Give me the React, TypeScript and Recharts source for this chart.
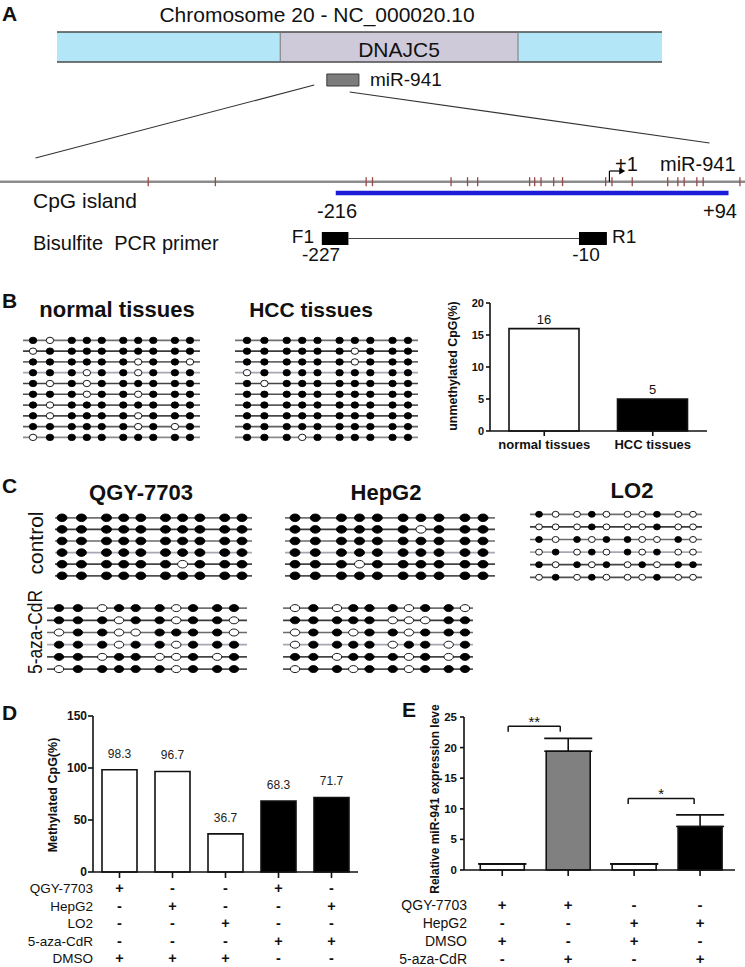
import React from "react";
import {
  BarChart,
  Bar,
  ComposedChart,
  Line,
  Scatter,
  XAxis,
  YAxis,
  Cell,
  LabelList,
  ReferenceArea,
  ReferenceLine,
  ReferenceDot,
  ErrorBar,
} from "recharts";

const FONT = '"Liberation Sans", Arial, Helvetica, sans-serif';
const INK = "#111";

// ---------- A: chromosome (in % of drawn region) and promoter (bp from +1) ----------
const CHR_SEGMENTS = [
  { name: "", start: 0, end: 36.9 },
  { name: "DNAJC5", start: 36.9, end: 76.2 },
  { name: "", start: 76.2, end: 100 },
];
const MIR_BOX = { name: "miR-941", start: 44.6, end: 49.9 };
const CPG_SITES = [
  -364, -311, -192, -187, -125, -112, -104, -63, -59, -54, -44, -37, -3, 2, 18, 46, 54, 59, 69, 74, 103,
];
const CPG_ISLAND = { start: -216, end: 94 };
const PRIMERS = [
  { name: "F1", start: -227, end: -206 },
  { name: "R1", start: -24, end: -2 },
];
const TSS = 0;
const GENE_RANGE: [number, number] = [-481, 107];

// ---------- B ----------
// 1 = methylated (filled), 0 = unmethylated (open)
const NORMAL_ROWS = [
  "1011111111",
  "0111111111",
  "1111110110",
  "1110110111",
  "1010111111",
  "1110110111",
  "1011111111",
  "1011110111",
  "1111110101",
  "0111111111",
];
const HCC_ROWS = [
  "1111111111",
  "1111110111",
  "1111110111",
  "0111111111",
  "1011111111",
  "1111111111",
  "1111111111",
  "1111111111",
  "1111111111",
  "1110111111",
];
const B_GROUPS = ["normal tissues", "HCC tissues"];
const B_UNMETH = [16, 5];

// ---------- C ----------
const QGY_CTRL = ["1111111111", "1111111111", "1111111111", "1111111111", "1111110111", "1111111111"];
const HEPG2_CTRL = ["1111111111", "1111110111", "1111111111", "1111111111", "1110111111", "1111111111"];
const LO2_CTRL = ["1001000100", "0001000100", "1010110010", "0101010100", "1010101011", "0101000100"];
const QGY_AZA = ["1101110111", "1110110110", "0110011110", "1110110111", "1101100101", "0111110111"];
const HEPG2_AZA = ["0101110110", "1111100011", "0110110111", "0111101101", "1101110101", "0110110111"];
// schematic column of each of the 10 CpG sites
const CPG_LAYOUT = [0, 1.08, 2.47, 3.43, 4.38, 5.75, 6.7, 7.66, 9.04, 10];

// ---------- D ----------
const D_GROUPS = ["QGY-7703/DMSO", "HepG2/DMSO", "LO2/DMSO", "QGY-7703/aza", "HepG2/aza"];
const D_METH = [98.3, 96.7, 36.7, 68.3, 71.7];
const D_ROW_LABELS = ["QGY-7703", "HepG2", "LO2", "5-aza-CdR", "DMSO"];
const D_MARKS = ["+--+-", "-+--+", "--+--", "---++", "+++--"];

// ---------- E ----------
const E_GROUPS = [1, 2, 3, 4];
const E_REL = [1, 19.4, 1, 7.1];
const E_SEM = [0, 2.1, 0, 1.9];
const E_ROW_LABELS = ["QGY-7703", "HepG2", "DMSO", "5-aza-CdR"];
const E_MARKS = ["++--", "--++", "+-+-", "-+-+"];
const E_SIG = [
  { x1: 1.09, x2: 1.88, y: 23.5, label: "**" },
  { x1: 2.91, x2: 3.91, y: 11.7, label: "*" },
];

// styles
const CHR_FILLS = ["#b3e6f7", "#cecad9", "#b3e6f7"];
const B_FILLS = ["#fff", "#000"];
const D_FILLS = ["#fff", "#fff", "#fff", "#000", "#000"];
const E_FILLS = ["#fff", "#808080", "#fff", "#000"];
const ROW_SHADES = ["#707070", "#3c3c3c", "#6a6a6a", "#a8a8b4", "#444", "#505050", "#5a5a5a", "#484848", "#5f5f5f", "#8a8a8a"];

const CHR_PX = [57, 662];
const chrUnit = (CHR_PX[1] - CHR_PX[0]) / 100;
const CHR_DOMAIN: [number, number] = [-CHR_PX[0] / chrUnit, (745 - CHR_PX[0]) / chrUnit];

function PanelA() {
  const sites = CPG_SITES.map((x) => ({ x, y: 181.7 }));
  const bounds = CHR_SEGMENTS.slice(1).map((s) => ({ x: s.start, y: 47 }));
  const tickShape = (p: any) => (
    <line x1={p.cx} x2={p.cx} y1={p.cy - 4.5} y2={p.cy + 4.5} stroke="#9c4747" strokeWidth={1.3} />
  );
  const divider = (p: any) => (
    <line x1={p.cx} x2={p.cx} y1={p.cy - 15} y2={p.cy + 15} stroke="#777" strokeWidth={1} />
  );
  return (
    <div style={{ position: "absolute", left: 0, top: 0 }}>
      <ComposedChart width={745} height={280} margin={{ top: 0, right: 0, bottom: 0, left: 0 }}>
        <XAxis xAxisId="bp" type="number" dataKey="x" domain={GENE_RANGE} hide allowDataOverflow />
        <XAxis xAxisId="chr" type="number" dataKey="x" domain={CHR_DOMAIN} hide allowDataOverflow />
        <YAxis type="number" dataKey="y" domain={[0, 280]} reversed hide allowDataOverflow />

        {CHR_SEGMENTS.map((s, i) => (
          <ReferenceArea
            key={"seg" + i}
            xAxisId="chr"
            x1={s.start}
            x2={s.end}
            y1={32}
            y2={62}
            fill={CHR_FILLS[i]}
            fillOpacity={1}
            stroke="none"
          />
        ))}
        {[32, 62].map((y) => (
          <ReferenceLine
            key={"b" + y}
            xAxisId="chr"
            segment={[{ x: 0, y }, { x: 100, y }]}
            stroke="#4a4a4a"
            strokeWidth={1.5}
          />
        ))}
        <ReferenceArea
          xAxisId="chr"
          x1={MIR_BOX.start}
          x2={MIR_BOX.end}
          y1={74}
          y2={86}
          fill="#7c7c7c"
          fillOpacity={1}
          stroke="#3a3a3a"
          strokeWidth={1}
        />
        <Scatter xAxisId="chr" data={bounds} shape={divider} isAnimationActive={false} />

        {/* zoom-in lines */}
        <ReferenceLine xAxisId="bp" segment={[{ x: -233, y: 85 }, { x: -453, y: 158 }]} stroke="#333" strokeWidth={1.2} />
        <ReferenceLine xAxisId="bp" segment={[{ x: -205, y: 92 }, { x: 79, y: 143 }]} stroke="#333" strokeWidth={1.2} />

        <ReferenceLine xAxisId="bp" y={181.7} stroke="#8c8c8c" strokeWidth={2.5} />
        <ReferenceLine
          xAxisId="bp"
          segment={[{ x: CPG_ISLAND.start, y: 193 }, { x: CPG_ISLAND.end, y: 193 }]}
          stroke="#1b1bd8"
          strokeWidth={4.5}
        />
        {PRIMERS.map((p) => (
          <ReferenceArea
            key={p.name}
            xAxisId="bp"
            x1={p.start}
            x2={p.end}
            y1={232}
            y2={245}
            fill="#000"
            fillOpacity={1}
            stroke="none"
          />
        ))}
        <ReferenceLine
          xAxisId="bp"
          segment={[{ x: PRIMERS[0].end, y: 238.5 }, { x: PRIMERS[1].start, y: 238.5 }]}
          stroke="#444"
          strokeWidth={1}
        />
        {/* transcription start arrow */}
        <ReferenceLine xAxisId="bp" segment={[{ x: TSS, y: 181.7 }, { x: TSS, y: 171 }]} stroke="#000" strokeWidth={1.2} />
        <ReferenceLine xAxisId="bp" segment={[{ x: TSS, y: 171 }, { x: TSS + 10, y: 171 }]} stroke="#000" strokeWidth={1.2} />
        <ReferenceDot
          xAxisId="bp"
          x={TSS + 12.5}
          y={171}
          r={3}
          shape={(p: any) => (
            <path d={`M${p.cx - 6},${p.cy - 3.5}L${p.cx},${p.cy}L${p.cx - 6},${p.cy + 3.5}Z`} fill="#000" />
          )}
        />
        <Scatter xAxisId="bp" data={sites} shape={tickShape} isAnimationActive={false} />
      </ComposedChart>
    </div>
  );
}

type LolliProps = {
  rows: string[];
  lineX: [number, number];
  dotX: [number, number];
  rowY: [number, number];
  rx: number;
  ry: number;
};

function Lollipop({ rows, lineX, dotX, rowY, rx, ry }: LolliProps) {
  const n = rows.length;
  const gap = (rowY[1] - rowY[0]) / (n - 1);
  const unit = (dotX[1] - dotX[0]) / 10;
  const lo = -(dotX[0] - lineX[0]) / unit;
  const hi = 10 + (lineX[1] - dotX[1]) / unit;
  const pts = rows.flatMap((r, i) =>
    r.split("").map((c, j) => ({ x: CPG_LAYOUT[j], y: i + 1, m: c === "1" }))
  );
  const filled = pts.filter((p) => p.m);
  const open = pts.filter((p) => !p.m);
  const dot = (fill: string) => (p: any) => (
    <ellipse cx={p.cx} cy={p.cy} rx={rx} ry={ry} fill={fill} stroke="#000" strokeWidth={0.9} />
  );
  return (
    <div style={{ position: "absolute", left: lineX[0], top: rowY[0] - gap / 2 }}>
      <ComposedChart width={lineX[1] - lineX[0]} height={gap * n} margin={{ top: 0, right: 0, bottom: 0, left: 0 }}>
        <XAxis type="number" dataKey="x" domain={[lo, hi]} hide allowDataOverflow />
        <YAxis type="number" dataKey="y" domain={[0.5, n + 0.5]} reversed hide allowDataOverflow />
        {rows.map((_, i) => (
          <Line
            key={i}
            data={[
              { x: lo, y: i + 1 },
              { x: hi, y: i + 1 },
            ]}
            dataKey="y"
            stroke={ROW_SHADES[i % ROW_SHADES.length]}
            strokeWidth={1.7}
            dot={false}
            activeDot={false}
            isAnimationActive={false}
          />
        ))}
        <Scatter data={filled} shape={dot("#000")} isAnimationActive={false} />
        <Scatter data={open} shape={dot("#fff")} isAnimationActive={false} />
      </ComposedChart>
    </div>
  );
}

const axisStyle = { stroke: INK, strokeWidth: 1.6 };

function PanelBBars() {
  const data = B_GROUPS.map((g, i) => ({ g, v: B_UNMETH[i] }));
  return (
    <div style={{ position: "absolute", left: 440, top: 290 }}>
      <BarChart width={305} height={165} data={data} margin={{ top: 13, right: 38, left: 22, bottom: 0 }}>
        <XAxis
          dataKey="g"
          height={24}
          interval={0}
          tickSize={5}
          tickMargin={4}
          axisLine={axisStyle}
          tickLine={axisStyle}
          tick={{ fontSize: 13, fontWeight: 700, fill: INK }}
        />
        <YAxis
          domain={[0, 20]}
          ticks={[0, 5, 10, 15, 20]}
          width={28}
          tickSize={4}
          tickMargin={2}
          axisLine={axisStyle}
          tickLine={axisStyle}
          tick={{ fontSize: 11, fontWeight: 700, fill: INK }}
        />
        <Bar dataKey="v" barSize={70} stroke={INK} strokeWidth={1.6} isAnimationActive={false}>
          {data.map((_, i) => (
            <Cell key={i} fill={B_FILLS[i]} />
          ))}
          <LabelList dataKey="v" position="top" offset={5} fill={INK} fontSize={13} />
        </Bar>
      </BarChart>
    </div>
  );
}

const tableTick =
  (labels: string[], marks: string[], labelX: number, first: number, step: number, size: number) =>
  (props: any) => {
    const { x, y, index } = props;
    return (
      <g>
        {marks.map((m, r) => (
          <text
            key={r}
            x={x}
            y={y + first + r * step}
            textAnchor="middle"
            fontSize={size + 1}
            fontWeight={700}
            fill={INK}
          >
            {m[index]}
          </text>
        ))}
        {index === 0 &&
          labels.map((l, r) => (
            <text key={"l" + r} x={labelX} y={y + first + r * step} textAnchor="end" fontSize={size} fill={INK}>
              {l}
            </text>
          ))}
      </g>
    );
  };

function PanelD() {
  const data = D_GROUPS.map((g, i) => ({ g, v: D_METH[i] }));
  return (
    <div style={{ position: "absolute", left: 0, top: 700 }}>
      <BarChart width={380} height={267} data={data} margin={{ top: 16, right: 22, left: 53, bottom: 0 }}>
        <XAxis
          dataKey="g"
          height={95}
          interval={0}
          tickSize={6}
          tickMargin={0}
          axisLine={axisStyle}
          tickLine={axisStyle}
          tick={tableTick(D_ROW_LABELS, D_MARKS, 93, 15, 17.6, 13.5)}
        />
        <YAxis
          domain={[0, 150]}
          ticks={[0, 50, 100, 150]}
          width={40}
          tickSize={5}
          tickMargin={1}
          axisLine={axisStyle}
          tickLine={axisStyle}
          tick={{ fontSize: 12, fontWeight: 700, fill: INK }}
        />
        <Bar dataKey="v" barSize={35} stroke={INK} strokeWidth={1.6} isAnimationActive={false}>
          {data.map((_, i) => (
            <Cell key={i} fill={D_FILLS[i]} />
          ))}
          <LabelList dataKey="v" position="top" offset={12} fill="#222" fontSize={12} />
        </Bar>
      </BarChart>
    </div>
  );
}

function PanelE() {
  const data = E_GROUPS.map((x, i) => ({ x, v: E_REL[i], err: [0, E_SEM[i]] }));
  return (
    <div style={{ position: "absolute", left: 370, top: 700 }}>
      <ComposedChart width={375} height={267} data={data} margin={{ top: 17, right: 10, left: 54, bottom: 0 }}>
        <XAxis
          type="number"
          dataKey="x"
          domain={[0.42, 4.53]}
          ticks={E_GROUPS}
          allowDataOverflow
          height={97}
          interval={0}
          tickSize={6}
          tickMargin={0}
          axisLine={axisStyle}
          tickLine={axisStyle}
          tick={tableTick(E_ROW_LABELS, E_MARKS, 97, 34, 18, 14)}
        />
        <YAxis
          type="number"
          domain={[0, 25]}
          ticks={[0, 5, 10, 15, 20, 25]}
          width={40}
          tickSize={4}
          tickMargin={3}
          axisLine={axisStyle}
          tickLine={axisStyle}
          tick={{ fontSize: 11.5, fontWeight: 700, fill: INK }}
        />
        <Bar dataKey="v" barSize={44} stroke={INK} strokeWidth={1.6} isAnimationActive={false}>
          {data.map((_, i) => (
            <Cell key={i} fill={E_FILLS[i]} />
          ))}
          <ErrorBar dataKey="err" direction="y" width={24} stroke={INK} strokeWidth={1.6} />
        </Bar>
        {E_SIG.map((s, i) => (
          <ReferenceLine
            key={"t" + i}
            segment={[{ x: s.x1, y: s.y }, { x: s.x2, y: s.y }]}
            stroke={INK}
            strokeWidth={1.5}
            label={{ value: s.label, position: "top", offset: -1, fontSize: 15, fill: INK }}
          />
        ))}
        {E_SIG.flatMap((s, i) =>
          [s.x1, s.x2].map((x, k) => (
            <ReferenceLine
              key={"v" + i + k}
              segment={[{ x, y: s.y }, { x, y: s.y - 0.9 }]}
              stroke={INK}
              strokeWidth={1.5}
            />
          ))
        )}
      </ComposedChart>
    </div>
  );
}

type T = { t: string; x: number; y: number; s: number; b?: boolean; a?: "start" | "middle" | "end"; rot?: boolean; len?: number };
const TEXTS: T[] = [
  { t: "A", x: 2, y: 21, s: 21, b: true },
  { t: "Chromosome 20 - NC_000020.10", x: 317, y: 22, s: 21, a: "middle" },
  { t: "DNAJC5", x: 399, y: 57, s: 21, a: "middle" },
  { t: "miR-941", x: 370, y: 86, s: 19 },
  { t: "+1", x: 615, y: 171, s: 20 },
  { t: "miR-941", x: 660, y: 171, s: 20 },
  { t: "CpG island", x: 33, y: 208, s: 21 },
  { t: "-216", x: 337, y: 218, s: 20, a: "middle" },
  { t: "+94", x: 720, y: 218, s: 20, a: "middle" },
  { t: "Bisulfite  PCR primer", x: 33, y: 250, s: 20 },
  { t: "F1", x: 314, y: 243, s: 19, a: "end" },
  { t: "R1", x: 612, y: 243, s: 19 },
  { t: "-227", x: 321, y: 261, s: 19, a: "middle" },
  { t: "-10", x: 586, y: 261, s: 19, a: "middle" },
  { t: "B", x: 2, y: 308, s: 21, b: true },
  { t: "normal tissues", x: 117, y: 317, s: 22, b: true, a: "middle" },
  { t: "HCC tissues", x: 311, y: 317, s: 21, b: true, a: "middle" },
  { t: "unmethylated CpG(%)", x: 457, y: 366, s: 12.4, b: true, a: "middle", rot: true },
  { t: "C", x: 2, y: 493, s: 21, b: true },
  { t: "QGY-7703", x: 141, y: 500, s: 22, b: true, a: "middle" },
  { t: "HepG2", x: 386, y: 500, s: 22, b: true, a: "middle" },
  { t: "LO2", x: 632, y: 498, s: 22, b: true, a: "middle" },
  { t: "control", x: 43, y: 543, s: 21, a: "middle", rot: true },
  { t: "5-aza-CdR", x: 42, y: 632, s: 20, a: "middle", rot: true, len: 84 },
  { t: "D", x: 2, y: 720, s: 21, b: true },
  { t: "Methylated CpG(%)", x: 57, y: 795, s: 12.5, b: true, a: "middle", rot: true },
  { t: "E", x: 402, y: 717, s: 21, b: true },
  { t: "Relative miR-941 expression leve", x: 439, y: 799, s: 12, b: true, a: "middle", rot: true },
];

export default function App() {
  return (
    <div
      style={{
        position: "relative",
        width: 745,
        height: 967,
        overflow: "hidden",
        background: "#fff",
        fontFamily: FONT,
      }}
    >
      <style>{"body{margin:0}"}</style>
      <PanelA />

      <Lollipop rows={NORMAL_ROWS} lineX={[23, 200]} dotX={[33, 190]} rowY={[340, 437]} rx={3.7} ry={3.2} />
      <Lollipop rows={HCC_ROWS} lineX={[235, 418]} dotX={[247, 408]} rowY={[340, 437]} rx={3.7} ry={3.2} />
      <PanelBBars />

      <Lollipop rows={QGY_CTRL} lineX={[55, 252]} dotX={[62, 242]} rowY={[518, 576]} rx={5} ry={3.8} />
      <Lollipop rows={HEPG2_CTRL} lineX={[285, 495]} dotX={[295, 483]} rowY={[518, 576]} rx={5} ry={3.8} />
      <Lollipop rows={LO2_CTRL} lineX={[530, 702]} dotX={[539, 693]} rowY={[514, 577]} rx={3.4} ry={3} />
      <Lollipop rows={QGY_AZA} lineX={[47, 247]} dotX={[59, 234]} rowY={[608, 669]} rx={4.7} ry={3.5} />
      <Lollipop rows={HEPG2_AZA} lineX={[283, 473]} dotX={[295, 465]} rowY={[608, 669]} rx={4.7} ry={3.5} />

      <PanelD />
      <PanelE />

      <svg
        width={745}
        height={967}
        style={{ position: "absolute", left: 0, top: 0, pointerEvents: "none" }}
      >
        {TEXTS.map((d, i) => (
          <text
            key={i}
            x={d.x}
            y={d.y}
            fontSize={d.s}
            fontWeight={d.b ? 700 : 400}
            textAnchor={d.a ?? "start"}
            transform={d.rot ? `rotate(-90 ${d.x} ${d.y})` : undefined}
            textLength={d.len}
            lengthAdjust={d.len ? "spacingAndGlyphs" : undefined}
            fill={INK}
            style={{ whiteSpace: "pre" }}
          >
            {d.t}
          </text>
        ))}
      </svg>
    </div>
  );
}
